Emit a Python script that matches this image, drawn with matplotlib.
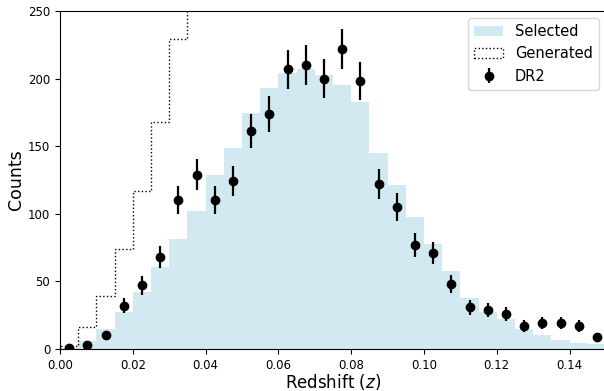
#! /usr/bin/env python3
""" Redshift distribution of selected, generated and DR2 samples. """

import matplotlib
matplotlib.use('Agg')
import matplotlib.pyplot as plt
import numpy as np

# bin edges in redshift
z_lo = 0.0
z_hi = 0.15
n_bins = 30

# counts per bin
selected = [1, 6, 14.5, 27, 42, 61, 81, 102, 129, 149,
            174.5, 193, 204, 207, 203, 195, 182.5, 145, 121, 98,
            77.5, 58, 38, 27, 22, 14.5, 10.5, 7, 4.7, 3.7]
# generated sample runs off the top of the plot past z = 0.035
generated = [2, 16, 39.5, 74, 117, 168, 229, 290, 345, 400,
             450, 490, 520, 540, 545, 540, 520, 490, 450, 410,
             365, 320, 275, 260, 255, 255, 256, 258, 260, 262]
dr2 = [1, 3, 10, 32, 47, 68, 110, 129, 110, 124,
       161, 174, 207, 210, 200, 222, 198, 122, 105, 77,
       71, 48, 31, 29, 26, 17, 19, 19, 17, 9]


def main():
    edges = np.linspace(z_lo, z_hi, n_bins + 1)
    centres = 0.5 * (edges[1:] + edges[:-1])

    fig = plt.figure(figsize=(6.04, 3.91), dpi=100)
    # right spine sits just past the edge of the canvas
    ax = fig.add_axes([60 / 604, 42 / 391, 546 / 604, 338 / 391])

    ax.hist(centres, bins=edges, weights=selected, histtype='stepfilled',
            color='lightblue', alpha=0.55, label='Selected')
    ax.hist(centres, bins=edges, weights=generated, histtype='step',
            color='k', linestyle=':', linewidth=1, label='Generated')
    counts = np.array(dr2, dtype=float)
    ax.errorbar(centres, counts, yerr=np.sqrt(counts), fmt='o', color='k',
                markersize=6, elinewidth=1.6, label='DR2')

    ax.set_xlim(z_lo, z_hi)
    ax.set_ylim(0, 250)
    ax.set_xticks(np.arange(0, 0.141, 0.02))
    ax.tick_params(labelsize=8.5)
    ax.set_xlabel(r'Redshift ($z$)', fontsize=12, labelpad=0.5)
    ax.set_ylabel('Counts', fontsize=12.5, labelpad=2)

    ax.legend(loc='upper right', fontsize=10.5)

    fig.savefig('out.png', dpi=100)


if __name__ == "__main__":
    main()
